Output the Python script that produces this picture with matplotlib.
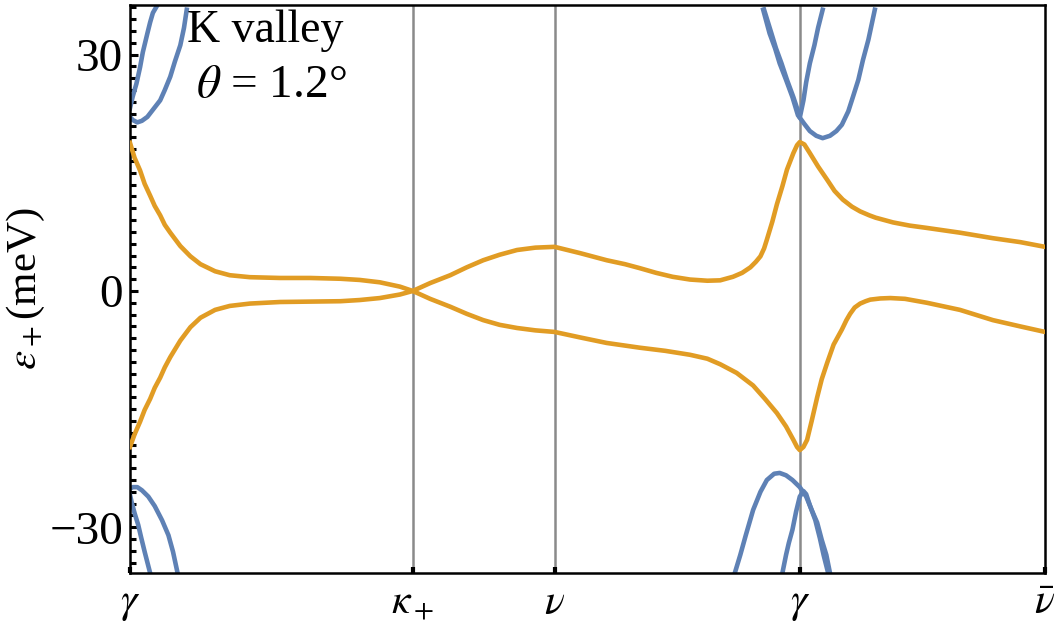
import numpy as np
import matplotlib.pyplot as plt
from matplotlib.ticker import MultipleLocator

plt.rcParams['mathtext.fontset'] = 'stix'
plt.rcParams['font.family'] = ['Liberation Serif', 'DejaVu Serif']

# high-symmetry points along the k path (path length normalised to 1)
k_ticks = [0.0, 0.309, 0.464, 0.732, 1.0]
k_labels = [r'$\gamma$', r'$\kappa_+$', r'$\nu$', r'$\gamma$', r'$\bar{\nu}$']

# flat bands (meV)
k_up = [0.0, 0.005, 0.011, 0.016, 0.022, 0.027, 0.033, 0.038, 0.044, 0.055,
        0.066, 0.077, 0.093, 0.109, 0.131, 0.164, 0.197, 0.230, 0.251, 0.273,
        0.295, 0.309, 0.328, 0.350, 0.368, 0.386, 0.404, 0.423, 0.443, 0.464,
        0.492, 0.521, 0.541, 0.557, 0.575, 0.593, 0.612, 0.631, 0.645, 0.659,
        0.669, 0.678, 0.684, 0.689, 0.693, 0.696, 0.702, 0.707, 0.713, 0.718,
        0.725, 0.729, 0.732, 0.737, 0.743, 0.752, 0.762, 0.770, 0.779, 0.789,
        0.798, 0.808, 0.815, 0.834, 0.852, 0.871, 0.907, 0.943, 0.973, 1.0]
e_up = [18.8, 16.9, 15.3, 13.6, 12.1, 10.8, 9.6, 8.4, 7.4, 5.7,
        4.4, 3.4, 2.5, 2.0, 1.75, 1.65, 1.65, 1.55, 1.4, 1.1,
        0.55, 0.0, 1.0, 2.0, 3.0, 3.9, 4.6, 5.2, 5.5, 5.6,
        4.8, 3.9, 3.4, 2.9, 2.3, 1.8, 1.45, 1.3, 1.35, 1.8,
        2.3, 3.0, 3.7, 4.4, 5.4, 6.5, 8.8, 11.0, 13.3, 15.4,
        17.5, 18.5, 18.9, 18.6, 17.5, 15.8, 14.1, 12.7, 11.6, 10.7,
        10.1, 9.6, 9.3, 8.7, 8.3, 8.0, 7.4, 6.7, 6.2, 5.6]

k_dn = [0.0, 0.005, 0.011, 0.016, 0.022, 0.027, 0.033, 0.038, 0.044, 0.055,
        0.066, 0.077, 0.093, 0.109, 0.131, 0.164, 0.197, 0.230, 0.251, 0.273,
        0.295, 0.309, 0.328, 0.350, 0.368, 0.386, 0.404, 0.423, 0.443, 0.464,
        0.492, 0.521, 0.557, 0.585, 0.612, 0.631, 0.645, 0.663, 0.681, 0.694,
        0.707, 0.717, 0.725, 0.729, 0.732, 0.736, 0.740, 0.745, 0.751, 0.756,
        0.762, 0.769, 0.778, 0.783, 0.787, 0.792, 0.798, 0.804, 0.809, 0.820,
        0.831, 0.847, 0.871, 0.907, 0.943, 0.973, 1.0]
e_dn = [-19.8, -18.2, -16.6, -15.1, -13.7, -12.3, -11.0, -9.7, -8.4, -6.3,
        -4.6, -3.4, -2.4, -1.9, -1.6, -1.4, -1.35, -1.3, -1.15, -0.9,
        -0.45, 0.0, -1.0, -2.0, -2.9, -3.7, -4.3, -4.7, -5.0, -5.2,
        -5.9, -6.6, -7.2, -7.6, -8.1, -8.6, -9.3, -10.4, -12.0, -13.7,
        -15.5, -17.2, -18.9, -19.8, -20.2, -19.8, -18.9, -16.5, -13.5, -11.2,
        -9.1, -6.8, -4.9, -3.7, -2.9, -2.1, -1.6, -1.3, -1.1, -0.95,
        -0.9, -1.0, -1.5, -2.4, -3.7, -4.5, -5.2]

# remote bands, drawn piece by piece
remote = [
    ([0.0, 0.003, 0.007, 0.011, 0.014, 0.019, 0.022, 0.025, 0.030],
     [23.2, 24.7, 26.3, 28.4, 30.3, 32.7, 34.1, 35.3, 36.3]),
    ([0.0, 0.003, 0.008, 0.013, 0.019, 0.025, 0.033, 0.038, 0.044, 0.049,
      0.055, 0.059, 0.062],
     [22.1, 21.7, 21.4, 21.6, 22.1, 23.0, 24.2, 25.5, 27.2, 29.1,
      31.2, 33.4, 35.7]),
    ([0.0, 0.003, 0.008, 0.013, 0.020, 0.027, 0.035, 0.042, 0.047, 0.052],
     [-25.1, -24.9, -24.9, -25.3, -26.1, -27.3, -29.1, -31.0, -33.1, -35.8]),
    ([0.0, 0.002, 0.005, 0.009, 0.012, 0.016, 0.022],
     [-25.9, -26.9, -28.2, -29.7, -31.2, -33.1, -35.8]),
    ([0.692, 0.699, 0.705, 0.710, 0.717, 0.724, 0.730, 0.732, 0.736, 0.739,
      0.743, 0.748, 0.752, 0.757],
     [35.7, 32.7, 30.8, 28.9, 26.8, 24.6, 22.3, 22.0, 24.2, 26.5,
      28.9, 31.2, 33.4, 35.7]),
    ([0.693, 0.701, 0.706, 0.712, 0.718, 0.725, 0.731, 0.732, 0.737, 0.743,
      0.750, 0.757, 0.765, 0.772, 0.778, 0.785, 0.790, 0.796, 0.801, 0.807,
      0.814],
     [35.7, 32.7, 30.8, 28.9, 26.8, 24.6, 22.5, 22.0, 21.2, 20.3,
      19.7, 19.4, 19.7, 20.3, 21.1, 22.8, 24.6, 26.8, 29.3, 31.9,
      35.7]),
    ([0.661, 0.667, 0.673, 0.681, 0.689, 0.696, 0.704, 0.710, 0.717, 0.724,
      0.732, 0.739, 0.745, 0.751, 0.756, 0.761, 0.765],
     [-35.8, -33.5, -31.0, -27.8, -25.5, -24.0, -23.2, -23.1, -23.4, -24.0,
      -24.9, -26.1, -27.8, -29.4, -31.6, -33.5, -35.8]),
    ([0.713, 0.717, 0.720, 0.724, 0.728, 0.732, 0.736, 0.739, 0.743, 0.749,
      0.754, 0.758, 0.763],
     [-35.8, -33.5, -32.0, -30.3, -28.0, -26.1, -25.4, -25.8, -27.2, -29.1,
      -31.4, -33.5, -35.8]),
]

orange = '#E19C24'
blue = '#5E81B5'

fig = plt.figure(figsize=(10.56, 6.28), dpi=100)
ax = fig.add_axes([130 / 1056, 55 / 628, 915 / 1056, 568 / 628])

for kx in k_ticks[1:4]:
    ax.axvline(kx, color='#8a8a8a', lw=1.8, zorder=1)

for kk, ee in remote:
    ax.plot(kk, ee, color=blue, lw=3.3, solid_joinstyle='round', zorder=2)
ax.plot(k_up, e_up, color=orange, lw=3.3, solid_joinstyle='round', zorder=3)
ax.plot(k_dn, e_dn, color=orange, lw=3.3, solid_joinstyle='round', zorder=3)

ax.set_xlim(0, 1)
ax.set_ylim(-35.8, 36.3)

ax.set_xticks(k_ticks)
ax.set_xticklabels(k_labels, fontsize=30)
ax.set_yticks([-30, 0, 30])
ax.set_yticklabels(['\u221230', '0', '30'], fontsize=34)
ax.yaxis.set_minor_locator(MultipleLocator(1.5))
ax.tick_params(axis='y', which='major', direction='in', length=6, width=2.2, pad=5)
ax.tick_params(axis='y', which='minor', direction='in', length=4, width=2.2)
ax.tick_params(axis='x', which='major', direction='in', length=4, width=3, pad=8)
for s in ax.spines.values():
    s.set_linewidth(1.8)

ax.set_ylabel(r'$\varepsilon_+$(meV)', fontsize=31, labelpad=2)

ax.text(0.062, 0.955, 'K valley', transform=ax.transAxes, fontsize=33,
        ha='left', va='center')
ax.text(0.072, 0.858, r'$\theta$ = 1.2°', transform=ax.transAxes, fontsize=34,
        ha='left', va='center')

fig.savefig('out.png', dpi=100)
